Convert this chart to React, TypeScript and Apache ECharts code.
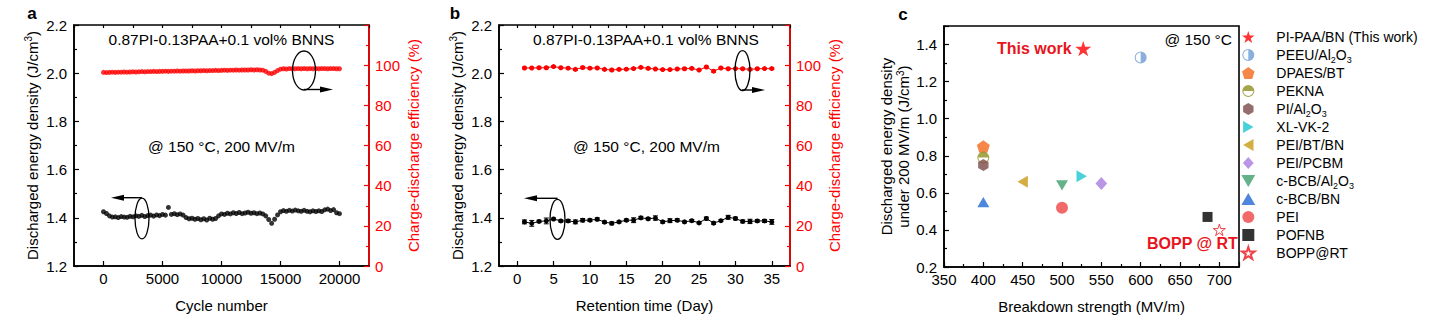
import React, { useEffect, useRef } from 'react';
import * as echarts from 'echarts';

const FONT = '"Liberation Sans", Arial, Helvetica, sans-serif';
const RED = '#ff0000';

// ---------- Panel a: cycling ----------
const cycleNumbers = [
  0, 250, 500, 750, 1000, 1250, 1500, 1750, 2000, 2250,
  2500, 2750, 3000, 3250, 3500, 3750, 4000, 4250, 4500, 4750,
  5000, 5250, 5500, 5750, 6000, 6250, 6500, 6750, 7000, 7250,
  7500, 7750, 8000, 8250, 8500, 8750, 9000, 9250, 9500, 9750,
  10000, 10250, 10500, 10750, 11000, 11250, 11500, 11750, 12000, 12250,
  12500, 12750, 13000, 13250, 13500, 13750, 14000, 14250, 14500, 14750,
  15000, 15250, 15500, 15750, 16000, 16250, 16500, 16750, 17000, 17250,
  17500, 17750, 18000, 18250, 18500, 18750, 19000, 19250, 19500, 19750,
  20000,
];
const cycleEnergy = [
  1.425, 1.418, 1.408, 1.403, 1.404, 1.401, 1.405, 1.403, 1.402, 1.406,
  1.404, 1.408, 1.406, 1.410, 1.405, 1.409, 1.411, 1.407, 1.412, 1.409,
  1.414, 1.411, 1.443, 1.414, 1.417, 1.413, 1.416, 1.411, 1.401, 1.396,
  1.398, 1.394, 1.397, 1.392, 1.396, 1.391, 1.398, 1.394, 1.397, 1.408,
  1.416, 1.414, 1.419, 1.416, 1.421, 1.418, 1.422, 1.417, 1.420, 1.423,
  1.419, 1.421, 1.417, 1.420, 1.416, 1.408, 1.393, 1.377, 1.394, 1.412,
  1.425, 1.430, 1.427, 1.431, 1.428, 1.432, 1.429, 1.427, 1.431, 1.427,
  1.425, 1.429, 1.426, 1.429, 1.426, 1.433, 1.436, 1.430, 1.434, 1.421,
  1.417,
];
const cycleEfficiency = [
  96.4, 96.3, 96.4, 96.5, 96.4, 96.5, 96.5, 96.6, 96.5, 96.6,
  96.7, 96.6, 96.7, 96.8, 96.7, 96.8, 96.8, 96.9, 96.8, 96.9,
  96.9, 97.0, 96.9, 97.0, 97.0, 97.1, 97.0, 97.1, 97.1, 97.1,
  97.2, 97.1, 97.2, 97.2, 97.3, 97.2, 97.3, 97.3, 97.4, 97.3,
  97.4, 97.5, 97.4, 97.5, 97.5, 97.6, 97.5, 97.6, 97.6, 97.6,
  97.7, 97.6, 97.7, 97.6, 97.5, 96.9, 96.0, 95.8, 96.4, 97.3,
  98.0, 98.2, 98.1, 98.3, 98.2, 98.2, 98.3, 98.2, 98.3, 98.2,
  98.3, 98.2, 98.3, 98.2, 98.3, 98.3, 98.2, 98.3, 98.3, 98.2,
  98.2,
];

// ---------- Panel b: retention ----------
const retentionDays = [
  1, 2, 3, 4, 5, 6, 7, 8, 9, 10, 11, 12, 13, 14, 15, 16, 17, 18,
  19, 20, 21, 22, 23, 24, 25, 26, 27, 28, 29, 30, 31, 32, 33, 34, 35,
];
const retentionEnergy = [
  1.383, 1.377, 1.385, 1.387, 1.395, 1.387, 1.387, 1.383, 1.390, 1.390,
  1.394, 1.382, 1.377, 1.383, 1.390, 1.390, 1.400, 1.396, 1.399, 1.383,
  1.388, 1.390, 1.383, 1.388, 1.379, 1.397, 1.378, 1.388, 1.402, 1.397,
  1.385, 1.385, 1.387, 1.387, 1.383,
];
const retentionEnergyErr = [
  0.008, 0.012, 0.005, 0.012, 0.004, 0.005, 0.006, 0.008, 0.007, 0.005,
  0.006, 0.005, 0.006, 0.004, 0.005, 0.010, 0.006, 0.005, 0.009, 0.005,
  0.008, 0.006, 0.004, 0.005, 0.004, 0.006, 0.005, 0.004, 0.008, 0.006,
  0.006, 0.009, 0.005, 0.006, 0.010,
];
const retentionEfficiency = [
  98.6, 98.6, 98.7, 98.7, 99.3, 98.7, 98.5, 97.9, 98.8, 98.5,
  98.6, 97.9, 97.6, 97.9, 98.0, 98.3, 98.9, 98.4, 98.1, 97.8,
  97.8, 98.1, 98.2, 98.4, 97.6, 99.1, 97.0, 98.6, 98.2, 98.3,
  98.2, 97.9, 98.2, 98.3, 98.3,
];
const retentionEfficiencyErr = [
  0.4, 0.3, 0.4, 0.5, 0.4, 0.3, 0.4, 0.5, 0.6, 0.4,
  0.4, 0.3, 0.5, 0.4, 0.3, 0.4, 0.4, 0.5, 0.3, 0.4,
  0.3, 0.4, 0.5, 0.4, 0.3, 0.4, 0.5, 0.4, 0.4, 0.3,
  0.4, 0.5, 0.4, 0.3, 0.4,
];

// ---------- Panel c: comparison ----------
const materialNames = [
  'PI-PAA/BN (This work)', 'PEEU/Al2O3', 'DPAES/BT', 'PEKNA', 'PI/Al2O3',
  'XL-VK-2', 'PEI/BT/BN', 'PEI/PCBM', 'c-BCB/Al2O3', 'c-BCB/BN', 'PEI',
  'POFNB', 'BOPP@RT',
];
const breakdownStrength = [527, 600, 400, 400, 400, 525, 450, 550, 500, 400, 500, 685, 700];
const energyAt200 = [1.378, 1.33, 0.85, 0.79, 0.75, 0.69, 0.66, 0.65, 0.64, 0.55, 0.52, 0.47, 0.40];

const STAR = 'path://M0,-100L22.45,-30.9L95.1,-30.9L36.3,11.8L58.8,80.9L0,38.2L-58.8,80.9L-36.3,11.8L-95.1,-30.9L-22.45,-30.9Z';
const HALF_RIGHT = 'path://M0,-10A10,10,0,1,1,0,10A10,10,0,1,1,0,-10ZM0,-8.3A8.3,8.3,0,1,0,0,8.3A8.3,8.3,0,1,0,0,-8.3ZM0,-8.3A8.3,8.3,0,0,1,0,8.3Z';
const HALF_TOP = 'path://M0,-10A10,10,0,1,1,0,10A10,10,0,1,1,0,-10ZM0,-8.3A8.3,8.3,0,1,0,0,8.3A8.3,8.3,0,1,0,0,-8.3ZM-8.3,0A8.3,8.3,0,0,1,8.3,0Z';
const PENTAGON = 'path://M0,-10L9.51,-3.09L5.88,8.09L-5.88,8.09L-9.51,-3.09Z';
const HEXAGON = 'path://M0,-10L8.66,-5L8.66,5L0,10L-8.66,5L-8.66,-5Z';
const TRI_UP = 'path://M0,-10L10,7.3L-10,7.3Z';
const TRI_DOWN = 'path://M0,10L10,-7.3L-10,-7.3Z';
const TRI_LEFT = 'path://M-10,0L7.3,-10L7.3,10Z';
const TRI_RIGHT = 'path://M10,0L-7.3,-10L-7.3,10Z';
const DIAMOND = 'path://M0,-10L9,0L0,10L-9,0Z';
const SQUARE = 'path://M-10,-10L10,-10L10,10L-10,10Z';
const CIRCLE = 'path://M0,-10A10,10,0,1,1,0,10A10,10,0,1,1,0,-10Z';

const markerStyles = [
  { symbol: STAR, size: 16, color: RED },
  { symbol: HALF_RIGHT, size: 12, color: '#6b9bd3' },
  { symbol: PENTAGON, size: 13, color: '#f26a1b' },
  { symbol: HALF_TOP, size: 12, color: '#8f8f22' },
  { symbol: HEXAGON, size: 12, color: '#7a4a46' },
  { symbol: TRI_RIGHT, size: 12, color: '#1cc6cf' },
  { symbol: TRI_LEFT, size: 12, color: '#c99a14' },
  { symbol: DIAMOND, size: 13, color: '#a77de0' },
  { symbol: TRI_DOWN, size: 12, color: '#3d9f6b' },
  { symbol: TRI_UP, size: 12, color: '#2266d4' },
  { symbol: CIRCLE, size: 12, color: '#ee4444' },
  { symbol: SQUARE, size: 10, color: '#000000' },
  { symbol: STAR, size: 12, color: '#ffffff', border: '#e8141c' },
];

const legendLabel = (name: string) =>
  name.replace('Al2O3', 'Al{s|2}O{s|3}');

function buildOption() {
  const tick = (color: string, len = 5) => ({
    show: true, inside: true, length: len, lineStyle: { color, width: 1.2 },
  });
  const minor = (color: string) => ({
    show: true, splitNumber: 2, length: 3, lineStyle: { color, width: 1.2 },
  });
  const line = (color: string) => ({ show: true, onZero: false, lineStyle: { color, width: 1.6 } });
  const label = (color: string, margin: number, extra: any = {}) => ({
    color, fontFamily: FONT, fontSize: 15, margin, ...extra,
  });
  const nameStyle = (color: string) => ({
    color, fontFamily: FONT, fontSize: 15, lineHeight: 18,
    rich: { sup: { fontSize: 10, lineHeight: 10, verticalAlign: 'top', fontFamily: FONT, color } },
  });
  const fix1 = (v: number) => v.toFixed(1);
  const plain = (v: number) => String(v);

  const grids = [
    { left: 74, top: 25, width: 295, height: 241 },
    { left: 499, top: 25, width: 291, height: 241 },
    { left: 944, top: 26, width: 295, height: 241 },
  ].map((g) => ({ ...g, show: true, borderColor: '#000', borderWidth: 1.6, backgroundColor: 'transparent', containLabel: false }));

  const xAxis: any[] = [
    {
      gridIndex: 0, type: 'value', min: -2500, max: 22500, splitNumber: 5,
      axisLine: line('#000'), axisTick: tick('#000'), splitLine: { show: false },
      axisLabel: label('#000', 5, { showMinLabel: false, showMaxLabel: false, formatter: plain }),
      name: 'Cycle number', nameLocation: 'middle', nameGap: 30, nameTextStyle: nameStyle('#000'),
    },
    {
      gridIndex: 0, type: 'value', min: -2500, max: 22500, interval: 2500,
      axisLine: { show: false, onZero: false }, axisTick: tick('#000', 3), axisLabel: { show: false }, splitLine: { show: false },
    },
    {
      gridIndex: 1, type: 'value', min: -2.5, max: 37.5, splitNumber: 8,
      axisLine: line('#000'), axisTick: tick('#000'), splitLine: { show: false },
      axisLabel: label('#000', 5, { showMinLabel: false, showMaxLabel: false, formatter: plain }),
      name: 'Retention time (Day)', nameLocation: 'middle', nameGap: 30, nameTextStyle: nameStyle('#000'),
    },
    {
      gridIndex: 1, type: 'value', min: -2.5, max: 37.5, interval: 2.5,
      axisLine: { show: false, onZero: false }, axisTick: tick('#000', 3), axisLabel: { show: false }, splitLine: { show: false },
    },
    {
      gridIndex: 2, type: 'value', min: 350, max: 725, interval: 50,
      axisLine: line('#000'), axisTick: tick('#000'), minorTick: minor('#000'), splitLine: { show: false },
      axisLabel: label('#000', 5, { showMaxLabel: false, formatter: plain }),
      name: 'Breakdown strength (MV/m)', nameLocation: 'middle', nameGap: 30, nameTextStyle: nameStyle('#000'),
    },
  ];

  const leftY = (gridIndex: number) => ({
    gridIndex, type: 'value', min: 1.2, max: 2.2, interval: 0.2, position: 'left',
    axisLine: line('#000'), axisTick: tick('#000'), minorTick: minor('#000'), splitLine: { show: false },
    axisLabel: label('#000', 7, { formatter: fix1 }),
    name: 'Discharged energy density (J/cm{sup|3})', nameLocation: 'middle', nameGap: 33,
    nameTextStyle: nameStyle('#000'),
  });
  const rightY = (gridIndex: number) => ({
    gridIndex, type: 'value', min: 0, max: 120, interval: 20, position: 'right',
    axisLine: line(RED), axisTick: tick(RED), minorTick: minor(RED), splitLine: { show: false },
    axisLabel: label(RED, 6, { showMaxLabel: false }),
    name: 'Charge-discharge efficiency (%)', nameLocation: 'middle', nameGap: 35,
    nameTextStyle: nameStyle(RED),
  });

  const yAxis: any[] = [
    leftY(0), rightY(0), leftY(1), rightY(1),
    {
      gridIndex: 2, type: 'value', min: 0.2, max: 1.5, interval: 0.2,
      axisLine: line('#000'), axisTick: tick('#000'), minorTick: minor('#000'), splitLine: { show: false },
      axisLabel: label('#000', 7, { formatter: fix1, showMaxLabel: false }),
      name: 'Discharged energy density\nunder 200 MV/m (J/cm{sup|3})', nameLocation: 'middle', nameGap: 32,
      nameTextStyle: { ...nameStyle('#000'), lineHeight: 17 },
    },
  ];

  const errorBars = (vals: number[], errs: number[], color: string, xIdx: number, yIdx: number) => ({
    type: 'custom', xAxisIndex: xIdx, yAxisIndex: yIdx, silent: true, z: 3,
    data: retentionDays.map((d, i) => [d, vals[i] - errs[i], vals[i] + errs[i]]),
    renderItem: (params: any, api: any) => {
      const x = api.value(0);
      const lo = api.coord([x, api.value(1)]);
      const hi = api.coord([x, api.value(2)]);
      const w = 2.5;
      const st = { stroke: color, lineWidth: 1 };
      return {
        type: 'group',
        children: [
          { type: 'line', shape: { x1: lo[0], y1: lo[1], x2: hi[0], y2: hi[1] }, style: st },
          { type: 'line', shape: { x1: lo[0] - w, y1: lo[1], x2: lo[0] + w, y2: lo[1] }, style: st },
          { type: 'line', shape: { x1: hi[0] - w, y1: hi[1], x2: hi[0] + w, y2: hi[1] }, style: st },
        ],
      };
    },
  });

  const series: any[] = [
    {
      type: 'scatter', name: 'a-energy', xAxisIndex: 0, yAxisIndex: 0, symbol: 'circle', symbolSize: 5,
      itemStyle: { color: '#000' }, data: cycleNumbers.map((c, i) => [c, cycleEnergy[i]]),
    },
    {
      type: 'scatter', name: 'a-eff', xAxisIndex: 0, yAxisIndex: 1, symbol: 'circle', symbolSize: 5,
      itemStyle: { color: RED }, data: cycleNumbers.map((c, i) => [c, cycleEfficiency[i]]),
    },
    errorBars(retentionEnergy, retentionEnergyErr, '#000', 2, 2),
    {
      type: 'line', name: 'b-energy', xAxisIndex: 2, yAxisIndex: 2, symbol: 'circle', symbolSize: 5,
      lineStyle: { color: '#000', width: 1 }, itemStyle: { color: '#000' },
      data: retentionDays.map((d, i) => [d, retentionEnergy[i]]),
    },
    errorBars(retentionEfficiency, retentionEfficiencyErr, RED, 2, 3),
    {
      type: 'line', name: 'b-eff', xAxisIndex: 2, yAxisIndex: 3, symbol: 'circle', symbolSize: 5,
      lineStyle: { color: RED, width: 1 }, itemStyle: { color: RED },
      data: retentionDays.map((d, i) => [d, retentionEfficiency[i]]),
    },
  ];

  materialNames.forEach((name, i) => {
    const m = markerStyles[i];
    series.push({
      type: 'scatter', name, xAxisIndex: 4, yAxisIndex: 4,
      symbol: m.symbol, symbolSize: m.size, symbolKeepAspect: true,
      itemStyle: m.border ? { color: m.color, borderColor: m.border, borderWidth: 1 } : { color: m.color },
      data: [[breakdownStrength[i], energyAt200[i]]],
      z: 5,
    });
  });

  const txt = (text: string, x: number, y: number, opts: any = {}) => ({
    type: 'text', x, y, z: 100,
    style: {
      text, fill: opts.fill || '#000',
      font: `${opts.weight || 'normal'} ${opts.size || 15.5}px ${FONT}`,
      textAlign: opts.align || 'center', textVerticalAlign: 'middle',
    },
  });
  const ell = (cx: number, cy: number, rx: number, ry: number) => ({
    type: 'ellipse', z: 100, shape: { cx, cy, rx, ry }, style: { fill: 'none', stroke: '#000', lineWidth: 1.3 },
  });
  const arrow = (x1: number, y: number, x2: number) => {
    const dir = x2 > x1 ? 1 : -1;
    const headLen = 13;
    return [
      { type: 'line', z: 100, shape: { x1, y1: y, x2: x2 - dir * headLen, y2: y }, style: { stroke: '#000', lineWidth: 1.4 } },
      {
        type: 'polygon', z: 100,
        shape: { points: [[x2, y], [x2 - dir * headLen, y - 3], [x2 - dir * headLen, y + 3]] },
        style: { fill: '#000' },
      },
    ];
  };

  const graphic: any[] = [
    txt('a', 32, 13, { weight: 'bold', size: 17 }),
    txt('b', 455, 13, { weight: 'bold', size: 17 }),
    txt('c', 903, 14, { weight: 'bold', size: 17 }),
    txt('0.87PI-0.13PAA+0.1 vol% BNNS', 221.5, 39),
    txt('@ 150 °C, 200 MV/m', 221.5, 146),
    txt('0.87PI-0.13PAA+0.1 vol% BNNS', 646, 39),
    txt('@ 150 °C, 200 MV/m', 646.5, 146),
    ell(304, 70.5, 11.5, 19.5),
    ...arrow(304, 89.5, 333),
    ell(142, 218.5, 7, 20.3),
    ...arrow(142, 197.7, 111),
    ell(742.5, 70.7, 7.5, 20),
    ...arrow(742, 90, 765),
    ell(557.5, 219.3, 7.5, 20),
    ...arrow(557.5, 198.3, 524),
    txt('This work', 997, 48, { weight: 'bold', size: 16, fill: '#e8141c', align: 'left' }),
    txt('@ 150 °C', 1232, 39, { size: 15.5, align: 'right' }),
    txt('BOPP @ RT', 1147, 243, { weight: 'bold', size: 16, fill: '#e8141c', align: 'left' }),
  ];

  return {
    animation: false,
    backgroundColor: '#ffffff',
    textStyle: { fontFamily: FONT },
    grid: grids,
    xAxis,
    yAxis,
    series,
    legend: {
      data: materialNames,
      orient: 'vertical',
      left: 1241,
      top: 28,
      padding: 0,
      itemGap: 0,
      itemWidth: 14,
      itemHeight: 12,
      symbolKeepAspect: true,
      selectedMode: false,
      formatter: legendLabel,
      textStyle: {
        fontFamily: FONT, fontSize: 14, color: '#000', lineHeight: 18,
        padding: [0, 0, 0, 16],
        rich: { s: { fontFamily: FONT, fontSize: 9, lineHeight: 9, verticalAlign: 'bottom', color: '#000' } },
      },
    },
    graphic,
  };
}

export default function App() {
  const ref = useRef<HTMLDivElement>(null);
  useEffect(() => {
    if (!ref.current) return;
    const chart = echarts.init(ref.current, null, { renderer: 'svg' });
    chart.setOption(buildOption() as any);
    return () => chart.dispose();
  }, []);
  return (
    <div
      ref={ref}
      style={{ position: 'absolute', left: 0, top: 0, width: 1438, height: 322, background: '#fff' }}
    />
  );
}
